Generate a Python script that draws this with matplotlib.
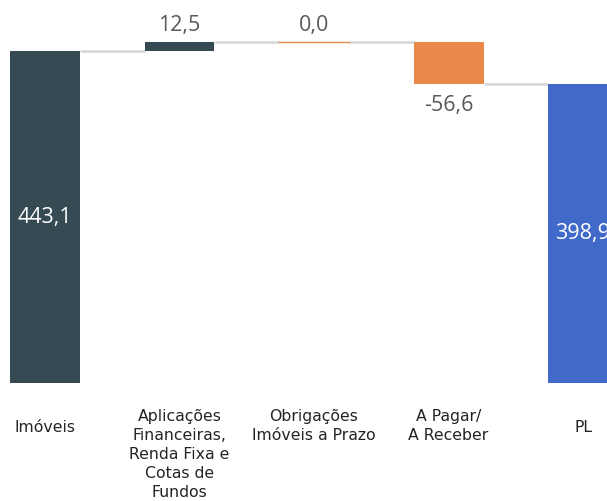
import matplotlib
matplotlib.use("Agg")
import matplotlib.pyplot as plt

categories = ["Imóveis", "Aplicações\nFinanceiras,\nRenda Fixa e\nCotas de\nFundos",
              "Obrigações\nImóveis a Prazo", "A Pagar/\nA Receber", "PL"]
values = [443.1, 12.5, 0.0, -56.6, 398.9]
kinds = ["total", "delta", "delta", "delta", "total"]
value_labels = ["443,1", "12,5", "0,0", "-56,6", "398,9"]

C_DARK = "#364A54"
C_ORANGE = "#E8894A"
C_BLUE = "#4169C9"
C_CONN = "#D9D9D9"

W, H = 607, 501
fig = plt.figure(figsize=(W / 100, H / 100), dpi=100)
ax = fig.add_axes([0, 0, 1, 1])
ax.set_xlim(-0.3346, 4.178)
ax.set_ylim(-157.5, 511.2)
ax.axis("off")

bw = 0.52
running = 0.0
prev_end = None
for i, (v, k) in enumerate(zip(values, kinds)):
    if k == "total":
        bottom, top = 0.0, v
        color = C_BLUE if i == len(values) - 1 else C_DARK
        end = v
    else:
        start = running
        end = running + v
        bottom, top = min(start, end), max(start, end)
        color = C_DARK if v > 0 else C_ORANGE
    if prev_end is not None:
        ax.plot([i - 1 + bw / 2, i - bw / 2], [prev_end, prev_end], color=C_CONN,
                lw=2, solid_capstyle="butt", zorder=1)
    if top - bottom > 0:
        ax.bar(i, top - bottom, bottom=bottom, width=bw, color=color, zorder=2)
    else:
        ax.plot([i - bw / 2, i + bw / 2], [top, top], color=color, lw=1, zorder=2)
    running = end
    prev_end = end

    # value labels
    if k == "total":
        ax.text(i, top / 2, value_labels[i], ha="center", va="center", color="white",
                fontsize=15.5, family="Open Sans", zorder=3)
    elif v >= 0:
        ax.text(i, top + 7, value_labels[i], ha="center", va="bottom", color="#595959",
                fontsize=15.5, family="Open Sans", zorder=3)
    else:
        ax.text(i, bottom - 15, value_labels[i], ha="center", va="top", color="#595959",
                fontsize=15.5, family="Open Sans", zorder=3)

# category labels
for i, c in enumerate(categories):
    n = c.count("\n") + 1
    ypix = 428 if n == 1 else 409
    yv = (383 - ypix) / 0.7493
    ax.text(i, yv, c, ha="center", va="center" if n == 1 else "top",
            color="#252423", fontsize=11.3, family="DejaVu Sans", linespacing=1.34)

fig.savefig("out.png", dpi=100)
